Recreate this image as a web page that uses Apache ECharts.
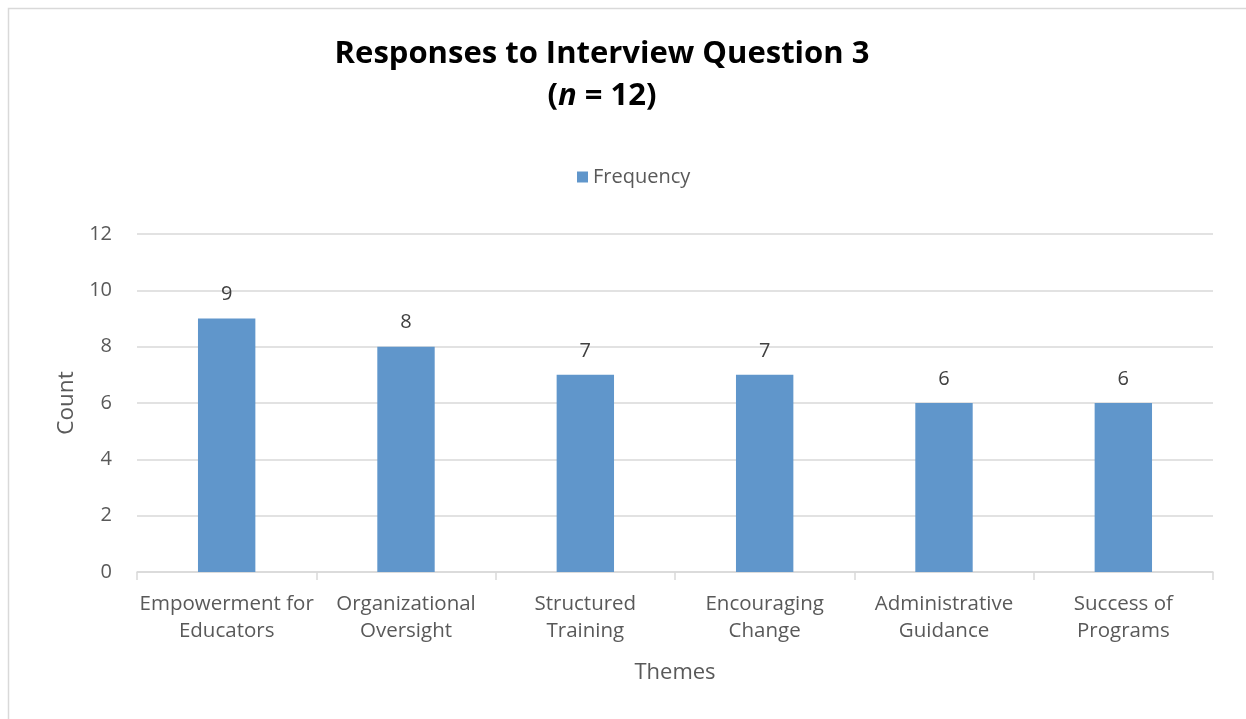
<!DOCTYPE html>
<html><head><meta charset="utf-8">
<script src="https://cdn.jsdelivr.net/npm/echarts@6/dist/echarts.min.js"></script>
<style>html,body{margin:0;padding:0;background:#fff}#c{width:1246px;height:719px}</style>
</head><body><div id="c"></div>
<script>
const categories = ["Empowerment for\nEducators", "Organizational\nOversight", "Structured\nTraining", "Encouraging\nChange", "Administrative\nGuidance", "Success of\nPrograms"];
const frequency = [9, 8, 7, 7, 6, 6];
const yTicks = {min: 0, max: 12, interval: 2};

const FONT = "'Open Sans', 'Noto Sans', sans-serif";
const chart = echarts.init(document.getElementById('c'));
chart.setOption({
  animation: false,
  backgroundColor: '#fff',
  graphic: [{type: 'rect', shape: {x: 8.5, y: 8.5, width: 1260, height: 740}, style: {fill: 'none', stroke: '#d9d9d9', lineWidth: 1.5}, silent: true}],
  title: {
    text: 'Responses to Interview Question 3\n({n|n} = 12)',
    left: 597, top: 28, textAlign: 'center',
    textStyle: {fontFamily: FONT, fontWeight: 'bold', fontSize: 31, color: '#000', lineHeight: 42,
      rich: {n: {fontFamily: FONT, fontWeight: 'bold', fontStyle: 'italic', fontSize: 31, color: '#000', lineHeight: 42}}}
  },
  legend: {
    top: 162, left: 572,
    itemWidth: 11, itemHeight: 11, itemGap: 7,
    textStyle: {fontFamily: FONT, fontSize: 20, color: '#595959'},
    data: [{name: 'Frequency', icon: 'rect'}]
  },
  grid: {left: 137, right: 33, top: 234, bottom: 147, containLabel: false},
  xAxis: {
    type: 'category', data: categories,
    name: 'Themes', nameLocation: 'middle', nameGap: 90,
    nameTextStyle: {fontFamily: FONT, fontSize: 22, color: '#595959'},
    axisLine: {lineStyle: {color: '#d9d9d9', width: 1.5}},
    axisTick: {show: true, length: 8, lineStyle: {color: '#d9d9d9', width: 1.5}},
    axisLabel: {fontFamily: FONT, fontSize: 20.5, color: '#595959', lineHeight: 27, margin: 19, interval: 0}
  },
  yAxis: {
    type: 'value', min: yTicks.min, max: yTicks.max, interval: yTicks.interval,
    name: 'Count', nameLocation: 'middle', nameGap: 59, nameRotate: 90,
    nameTextStyle: {fontFamily: FONT, fontSize: 22.5, color: '#595959'},
    axisLine: {show: false}, axisTick: {show: false},
    axisLabel: {fontFamily: FONT, fontSize: 20, color: '#595959', margin: 25},
    splitLine: {lineStyle: {color: '#d9d9d9', width: 1.5}}
  },
  series: [{
    name: 'Frequency', type: 'bar', data: frequency,
    barWidth: '32%',
    itemStyle: {color: '#6096CB'},
    label: {show: true, position: 'top', distance: 14, fontFamily: FONT, fontSize: 20, color: '#404040'}
  }]
});
</script></body></html>
